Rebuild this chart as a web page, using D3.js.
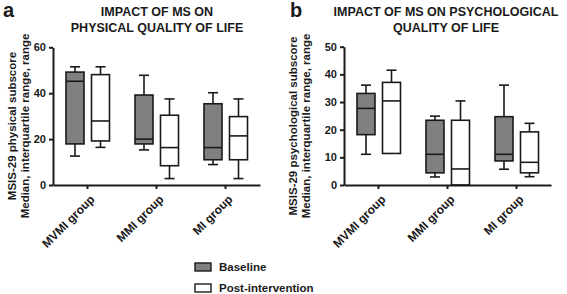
<!DOCTYPE html>
<html>
<head>
<meta charset="utf-8">
<script src="https://cdn.jsdelivr.net/npm/d3@7/dist/d3.min.js"></script>
<style>
  body { margin: 0; background: #fff; }
  svg text { font-family: "Liberation Sans", Arial, sans-serif; font-weight: bold; fill: #1a1a1a; }
</style>
</head>
<body>
<svg id="chart" width="567" height="294"></svg>
<script>
// groups on the x axis
const groups = ["MVMI group", "MMI group", "MI group"];
const seriesNames = ["Baseline", "Post-intervention"];
const seriesFill = ["#808080", "#ffffff"];

// five numbers per group: [min, q1, median, q3, max]
const physBaseline = [[12.6, 17.9, 45.2, 49.2, 51.5], [15.3, 17.9, 20.0, 39.2, 47.8], [8.9, 11.0, 16.3, 35.4, 40.2]];
const physPost     = [[16.4, 19.2, 27.9, 48.1, 51.5], [2.8, 8.4, 16.3, 30.4, 37.5], [2.8, 11.0, 21.4, 29.8, 37.5]];
const psychBaseline = [[11.1, 18.2, 27.7, 33.1, 36.1], [2.9, 4.4, 11.1, 23.4, 24.9], [5.7, 8.7, 11.1, 24.7, 36.1]];
const psychPost     = [[11.4, 11.4, 30.4, 37.1, 41.5], [0, 0, 5.8, 23.4, 30.4], [3.0, 4.4, 8.2, 19.2, 22.3]];

const physTicks = [0, 20, 40, 60];
const psychTicks = [0, 10, 20, 30, 40, 50];

const svg = d3.select("#chart");

function drawPanel(cfg) {
  const g = svg.append("g");

  const x = d3.scaleBand().domain(groups).range([cfg.left, cfg.right]).padding(0);
  const y = d3.scaleLinear().domain([0, cfg.yMax]).range([185, cfg.top]);

  // panel letter
  g.append("text").attr("x", cfg.letterX).attr("y", 17)
    .style("font-size", "20px").text(cfg.letter);

  // title
  cfg.title.forEach((t, i) => {
    g.append("text").attr("x", cfg.titleX).attr("y", 16 + i * 16)
      .attr("text-anchor", "middle").style("font-size", "12.5px").text(t);
  });

  // y label
  cfg.yLabel.forEach((t, i) => {
    g.append("text")
      .attr("transform", `translate(${cfg.yLabelX + i * 13},126) rotate(-90)`)
      .attr("text-anchor", "middle").style("font-size", "11.5px").text(t);
  });

  // boxes
  const offsets = [-12.5, 13];
  const bw = 18, cap = 10;
  [cfg.base, cfg.post].forEach((ser, si) => {
    ser.forEach((d, gi) => {
      const cx = x(groups[gi]) + x.bandwidth() / 2 + offsets[si];
      const bx = g.append("g");
      // whiskers
      bx.append("line").attr("x1", cx).attr("x2", cx).attr("y1", y(d[4])).attr("y2", y(d[3]));
      bx.append("line").attr("x1", cx).attr("x2", cx).attr("y1", y(d[1])).attr("y2", y(d[0]));
      if (d[4] > d[3]) bx.append("line").attr("x1", cx - cap / 2).attr("x2", cx + cap / 2).attr("y1", y(d[4])).attr("y2", y(d[4]));
      if (d[0] < d[1]) bx.append("line").attr("x1", cx - cap / 2).attr("x2", cx + cap / 2).attr("y1", y(d[0])).attr("y2", y(d[0]));
      bx.append("rect").attr("x", cx - bw / 2).attr("width", bw)
        .attr("y", y(d[3])).attr("height", y(d[1]) - y(d[3]))
        .attr("fill", seriesFill[si]);
      bx.append("line").attr("x1", cx - bw / 2).attr("x2", cx + bw / 2).attr("y1", y(d[2])).attr("y2", y(d[2]));
      bx.selectAll("line, rect").attr("stroke", "#1a1a1a").attr("stroke-width", 1.6);
    });
  });

  // axes
  const ya = g.append("g").attr("transform", `translate(${cfg.left},0)`)
    .call(d3.axisLeft(y).tickValues(cfg.ticks).tickSize(4).tickSizeOuter(0).tickPadding(3));
  ya.selectAll("text").style("font-size", "11px");

  const xa = g.append("g").attr("transform", "translate(0,185)")
    .call(d3.axisBottom(x).tickSize(4).tickSizeOuter(0));
  xa.selectAll("text")
    .attr("x", 0).attr("y", 0).attr("dy", "0.35em")
    .attr("text-anchor", "end")
    .attr("transform", "translate(5,12) rotate(-45)")
    .style("font-size", "12px");

  [ya, xa].forEach(a => {
    a.select(".domain").attr("stroke", "#1a1a1a").attr("stroke-width", 2);
    a.selectAll(".tick line").attr("stroke", "#1a1a1a").attr("stroke-width", 2);
  });
}

drawPanel({
  letter: "a", letterX: 3, titleX: 157,
  title: ["IMPACT OF MS ON", "PHYSICAL QUALITY OF LIFE"],
  yLabel: ["MSIS-29 physical subscore", "Median, interquartile range, range"], yLabelX: 16,
  left: 53, right: 260, top: 47.3, yMax: 60, ticks: physTicks,
  base: physBaseline, post: physPost
});

drawPanel({
  letter: "b", letterX: 290, titleX: 446,
  title: ["IMPACT OF MS ON PSYCHOLOGICAL", "QUALITY OF LIFE"],
  yLabel: ["MSIS-29 psychological subscore", "Median, interquartile range, range"], yLabelX: 297,
  left: 344, right: 551, top: 46.7, yMax: 50, ticks: psychTicks,
  base: psychBaseline, post: psychPost
});

// legend
const legend = svg.append("g");
seriesNames.forEach((name, i) => {
  legend.append("rect").attr("x", 195).attr("y", 263 + i * 21).attr("width", 16).attr("height", 8)
    .attr("fill", seriesFill[i]).attr("stroke", "#1a1a1a").attr("stroke-width", 1.4);
  legend.append("text").attr("x", 219).attr("y", 271 + i * 21)
    .style("font-size", "11.5px").text(name);
});
</script>
</body>
</html>
